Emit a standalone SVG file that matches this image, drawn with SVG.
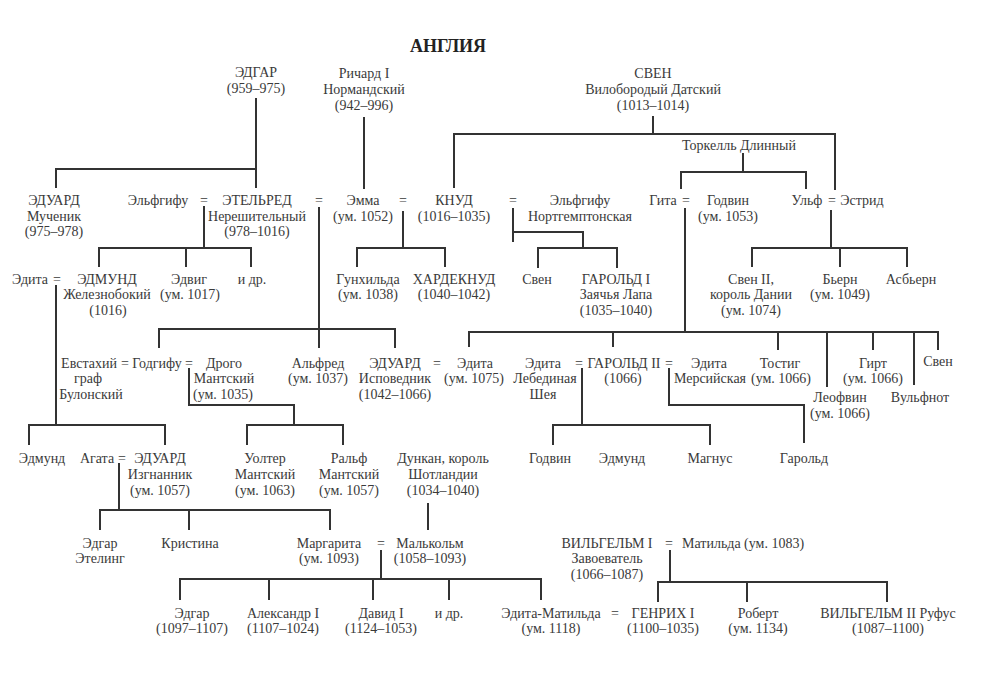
<svg xmlns="http://www.w3.org/2000/svg" width="1000" height="678" viewBox="0 0 1000 678">
<style>
text{font-family:"Liberation Serif","DejaVu Serif",serif;font-size:14px;fill:#3a3a3a;text-anchor:middle}
.t{font-size:18px;font-weight:bold;fill:#222}
.e{text-anchor:end}
.s{text-anchor:start}
#connectors path{fill:none;stroke:#333;stroke-width:2}
</style>
<rect width="1000" height="678" fill="#fff"/>
<text class="t" x="448" y="52">АНГЛИЯ</text>
<g id="connectors">
<path d="M256,98V188M256,169H56V188"/>
<path d="M364,117V189"/>
<path d="M653,116V134M454,188V134H835V190"/>
<path d="M743,153V172M681,189V172H806V189"/>
<path d="M204,206V248M99,267V248H251V267M186,248V267"/>
<path d="M403,211V248M357,267V248H445V267"/>
<path d="M513,208V242M513,232H583V248M538,268V248H617V268"/>
<path d="M319,207V348M159,348V329H395V348"/>
<path d="M685,208V332M469,347V332H938V350M613,332V347M778,332V350M827,332V387M873,332V350M914,332V385"/>
<path d="M831,210V248M752,267V248H907V267M840,248V267"/>
<path d="M56,285V425M29,445V425H165V445"/>
<path d="M189,368V405H294V425M247,445V425H343V445"/>
<path d="M582,368V425M553,445V425H710V445"/>
<path d="M669,368V405H804V443"/>
<path d="M119,463V510M100,530V510H330V530M189,510V530"/>
<path d="M428,503V530"/>
<path d="M381,550V579M180,600V579H541V600M269,579V600M373,579V600M449,579V600"/>
<path d="M670,550V582M658,602V582H887V602M747,582V602"/>
</g>
<g id="edgar"><text x="256" y="77">ЭДГАР</text><text x="256" y="93">(959–975)</text></g>
<g id="richard"><text x="364" y="78">Ричард I</text><text x="364" y="94">Нормандский</text><text x="364" y="110">(942–996)</text></g>
<g id="sven"><text x="653" y="78">СВЕН</text><text x="653" y="94">Вилобородый Датский</text><text x="653" y="110">(1013–1014)</text></g>
<g id="thorkell"><text x="739" y="150">Торкелль Длинный</text></g>
<g id="edward-martyr"><text x="54" y="205">ЭДУАРД</text><text x="54" y="221">Мученик</text><text x="54" y="236">(975–978)</text></g>
<g id="aelfgifu1"><text x="158" y="205">Эльфгифу</text><text x="204" y="205">=</text></g>
<g id="aethelred"><text x="257" y="205">ЭТЕЛЬРЕД</text><text x="257" y="221">Нерешительный</text><text x="257" y="236">(978–1016)</text><text x="319" y="205">=</text></g>
<g id="emma"><text x="363" y="205">Эмма</text><text x="363" y="221">(ум. 1052)</text><text x="403" y="205">=</text></g>
<g id="cnut"><text x="454" y="205">КНУД</text><text x="454" y="221">(1016–1035)</text><text x="513" y="205">=</text></g>
<g id="aelfgifu2"><text x="580" y="205">Эльфгифу</text><text x="580" y="221">Нортгемптонская</text></g>
<g id="gytha"><text x="663" y="205">Гита</text><text x="686" y="205">=</text></g>
<g id="godwin"><text x="728" y="205">Годвин</text><text x="728" y="221">(ум. 1053)</text></g>
<g id="ulf"><text x="807" y="205">Ульф</text><text x="832" y="205">=</text><text x="862" y="205">Эстрид</text></g>
<g id="edith1"><text class="e" x="48" y="284">Эдита</text><text x="57" y="284">=</text></g>
<g id="edmund-ironside"><text x="107" y="284">ЭДМУНД</text><text x="107" y="299">Железнобокий</text><text x="108" y="315">(1016)</text></g>
<g id="eadwig"><text x="189" y="284">Эдвиг</text><text x="190" y="299">(ум. 1017)</text></g>
<g id="others1"><text x="252" y="284">и др.</text></g>
<g id="gunhilda"><text x="368" y="284">Гунхильда</text><text x="368" y="299">(ум. 1038)</text></g>
<g id="harthacnut"><text x="454" y="284">ХАРДЕКНУД</text><text x="454" y="299">(1040–1042)</text></g>
<g id="sven-c"><text x="537" y="284">Свен</text></g>
<g id="harold1"><text x="616" y="284">ГАРОЛЬД I</text><text x="616" y="299">Заячья Лапа</text><text x="616" y="315">(1035–1040)</text></g>
<g id="sven2"><text x="751" y="284">Свен II,</text><text x="751" y="299">король Дании</text><text x="751" y="315">(ум. 1074)</text></g>
<g id="bjorn"><text x="840" y="284">Бьерн</text><text x="840" y="299">(ум. 1049)</text></g>
<g id="asbjorn"><text x="911" y="284">Асбьерн</text></g>
<g id="eustace"><text x="89" y="368">Евстахий</text><text x="88" y="383">граф</text><text x="91" y="399">Булонский</text><text x="125" y="368">=</text></g>
<g id="godgifu"><text x="157" y="368">Годгифу</text><text x="189" y="368">=</text></g>
<g id="drogo"><text x="224" y="368">Дрого</text><text x="224" y="383">Мантский</text><text x="223" y="399">(ум. 1035)</text></g>
<g id="alfred"><text x="318" y="368">Альфред</text><text x="318" y="383">(ум. 1037)</text></g>
<g id="edward-confessor"><text x="395" y="368">ЭДУАРД</text><text x="395" y="383">Исповедник</text><text x="395" y="399">(1042–1066)</text><text x="437" y="368">=</text></g>
<g id="edith-queen"><text x="475" y="368">Эдита</text><text x="474" y="383">(ум. 1075)</text></g>
<g id="edith-swan"><text x="543" y="368">Эдита</text><text x="545" y="383">Лебединая</text><text x="543" y="399">Шея</text><text x="579" y="368">=</text></g>
<g id="harold2"><text x="624" y="368">ГАРОЛЬД II</text><text x="623" y="383">(1066)</text><text x="669" y="368">=</text></g>
<g id="edith-mercia"><text x="709" y="368">Эдита</text><text x="710" y="383">Мерсийская</text></g>
<g id="tostig"><text x="780" y="368">Тостиг</text><text x="781" y="383">(ум. 1066)</text></g>
<g id="leofwine"><text x="840" y="402">Леофвин</text><text x="840" y="418">(ум. 1066)</text></g>
<g id="gyrth"><text x="873" y="368">Гирт</text><text x="873" y="383">(ум. 1066)</text></g>
<g id="wulfnoth"><text x="920" y="402">Вульфнот</text></g>
<g id="sven-g"><text x="938" y="366">Свен</text></g>
<g id="edmund-s"><text x="42" y="463">Эдмунд</text></g>
<g id="agatha"><text x="97" y="463">Агата</text><text x="122" y="463">=</text></g>
<g id="edward-exile"><text x="160" y="463">ЭДУАРД</text><text x="160" y="479">Изгнанник</text><text x="160" y="495">(ум. 1057)</text></g>
<g id="walter"><text x="265" y="463">Уолтер</text><text x="265" y="479">Мантский</text><text x="265" y="495">(ум. 1063)</text></g>
<g id="ralph"><text x="349" y="463">Ральф</text><text x="349" y="479">Мантский</text><text x="349" y="495">(ум. 1057)</text></g>
<g id="duncan"><text x="443" y="463">Дункан, король</text><text x="443" y="479">Шотландии</text><text x="443" y="495">(1034–1040)</text></g>
<g id="godwin-h"><text x="550" y="463">Годвин</text></g>
<g id="edmund-h"><text x="622" y="463">Эдмунд</text></g>
<g id="magnus"><text x="710" y="463">Магнус</text></g>
<g id="harold-h"><text x="804" y="463">Гарольд</text></g>
<g id="edgar-atheling"><text x="100" y="548">Эдгар</text><text x="100" y="563">Этелинг</text></g>
<g id="christina"><text x="190" y="548">Кристина</text></g>
<g id="margaret"><text x="329" y="548">Маргарита</text><text x="329" y="563">(ум. 1093)</text><text x="381" y="548">=</text></g>
<g id="malcolm"><text x="430" y="548">Малькольм</text><text x="430" y="563">(1058–1093)</text></g>
<g id="william1"><text x="607" y="548">ВИЛЬГЕЛЬМ I</text><text x="607" y="563">Завоеватель</text><text x="607" y="579">(1066–1087)</text><text x="669" y="548">=</text></g>
<g id="matilda"><text class="s" x="682" y="548">Матильда (ум. 1083)</text></g>
<g id="edgar-s"><text x="192" y="618">Эдгар</text><text x="192" y="633">(1097–1107)</text></g>
<g id="alexander"><text x="283" y="618">Александр I</text><text x="283" y="633">(1107–1024)</text></g>
<g id="david"><text x="381" y="618">Давид I</text><text x="381" y="633">(1124–1053)</text></g>
<g id="others2"><text x="449" y="618">и др.</text></g>
<g id="edith-matilda"><text x="551" y="618">Эдита-Матильда</text><text x="551" y="633">(ум. 1118)</text><text x="615" y="618">=</text></g>
<g id="henry1"><text x="663" y="618">ГЕНРИХ I</text><text x="663" y="633">(1100–1035)</text></g>
<g id="robert"><text x="758" y="618">Роберт</text><text x="758" y="633">(ум. 1134)</text></g>
<g id="william2"><text x="888" y="618">ВИЛЬГЕЛЬМ II Руфус</text><text x="888" y="633">(1087–1100)</text></g>
</svg>
